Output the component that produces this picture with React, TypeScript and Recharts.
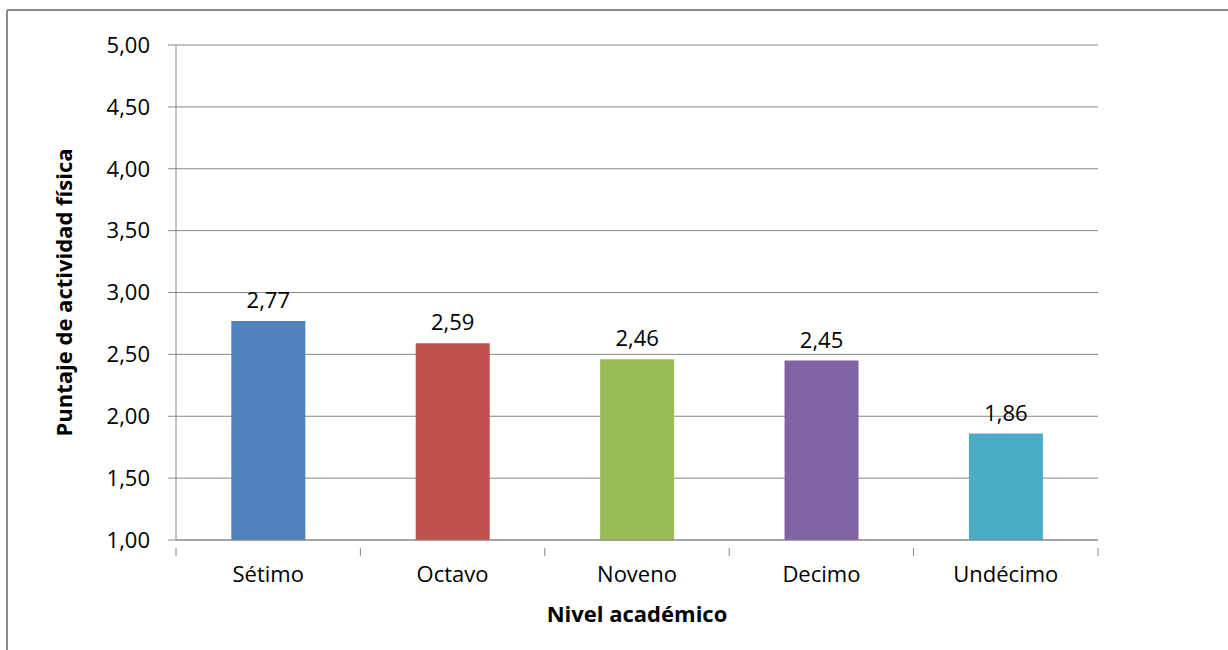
import React from "react";
import { BarChart, Bar, XAxis, YAxis, CartesianGrid, Cell, LabelList, Label } from "recharts";

const categories = ["Sétimo", "Octavo", "Noveno", "Decimo", "Undécimo"];
const scores = [2.77, 2.59, 2.46, 2.45, 1.86];
const barColors = ["#4F81BD", "#C0504D", "#9BBB59", "#8064A2", "#4BACC6"];
const yTicks = [1, 1.5, 2, 2.5, 3, 3.5, 4, 4.5, 5];

const data = categories.map((name, i) => ({ name, value: scores[i] }));

const FONT = "'Open Sans', sans-serif";
const W = 1228;
const H = 650;
const PLOT_LEFT = 176;
const PLOT_RIGHT_MARGIN = 130;
const PLOT_TOP = 45;
const X_AXIS_H = 110;
const AXIS_COLOR = "#868686";

const fmt = (v: number) => v.toFixed(2).replace(".", ",");

// Category tick: label centred on the band, tick marks on the band edges
const CategoryTick = (props: any) => {
  const { x, y, payload, index } = props;
  const band = (W - PLOT_LEFT - PLOT_RIGHT_MARGIN) / categories.length;
  const left = x - band / 2;
  const right = x + band / 2;
  return (
    <g>
      <line x1={left} y1={y - 18} x2={left} y2={y - 10} stroke={AXIS_COLOR} strokeWidth={1} />
      {index === categories.length - 1 && (
        <line x1={right} y1={y - 18} x2={right} y2={y - 10} stroke={AXIS_COLOR} strokeWidth={1} />
      )}
      <text x={x} y={y} dy="0.71em" textAnchor="middle" fill="#000" fontSize={22} fontFamily={FONT}>
        {payload.value}
      </text>
    </g>
  );
};

export default function App() {
  return (
    <div style={{ position: "absolute", left: 0, top: 0, width: W, height: H, overflow: "hidden", background: "#fff" }}>
      {/* chart frame: only its top and left edges fall inside the page */}
      <svg width={W} height={H} style={{ position: "absolute", left: 0, top: 0 }}>
        <line x1={7} y1={10} x2={W} y2={10} stroke="#8a8a8a" strokeWidth={2} />
        <line x1={7} y1={10} x2={7} y2={H} stroke="#8a8a8a" strokeWidth={2} />
      </svg>
      <div style={{ position: "absolute", left: 0, top: 0 }}>
        <BarChart
          width={W}
          height={H}
          data={data}
          margin={{ top: PLOT_TOP, right: PLOT_RIGHT_MARGIN, bottom: 0, left: 0 }}
          barCategoryGap="30%"
        >
          <CartesianGrid vertical={false} stroke={AXIS_COLOR} strokeWidth={1} />
          <XAxis
            dataKey="name"
            height={X_AXIS_H}
            axisLine={{ stroke: AXIS_COLOR }}
            tickLine={false}
            tickSize={8}
            tickMargin={18}
            tick={<CategoryTick />}
            interval={0}
          >
            <Label
              value="Nivel académico"
              position="insideBottom"
              offset={28}
              fill="#000"
              fontSize={22}
              fontWeight="bold"
              fontFamily={FONT}
            />
          </XAxis>
          <YAxis
            width={PLOT_LEFT}
            domain={[1, 5]}
            ticks={yTicks}
            tickFormatter={fmt}
            axisLine={{ stroke: AXIS_COLOR }}
            tickLine={{ stroke: AXIS_COLOR }}
            tickSize={8}
            tickMargin={18}
            tick={{ fill: "#000", fontSize: 22, fontFamily: FONT }}
            interval={0}
          >
            <Label
              value="Puntaje de actividad física"
              angle={-90}
              position="insideLeft"
              offset={64}
              style={{ textAnchor: "middle" }}
              fill="#000"
              fontSize={22}
              fontWeight="bold"
              fontFamily={FONT}
            />
          </YAxis>
          <Bar dataKey="value" isAnimationActive={false}>
            {data.map((d, i) => (
              <Cell key={d.name} fill={barColors[i]} />
            ))}
            <LabelList
              dataKey="value"
              position="top"
              offset={13}
              formatter={(v: any) => fmt(Number(v))}
              fill="#000"
              fontSize={22}
              fontFamily={FONT}
            />
          </Bar>
        </BarChart>
      </div>
    </div>
  );
}
